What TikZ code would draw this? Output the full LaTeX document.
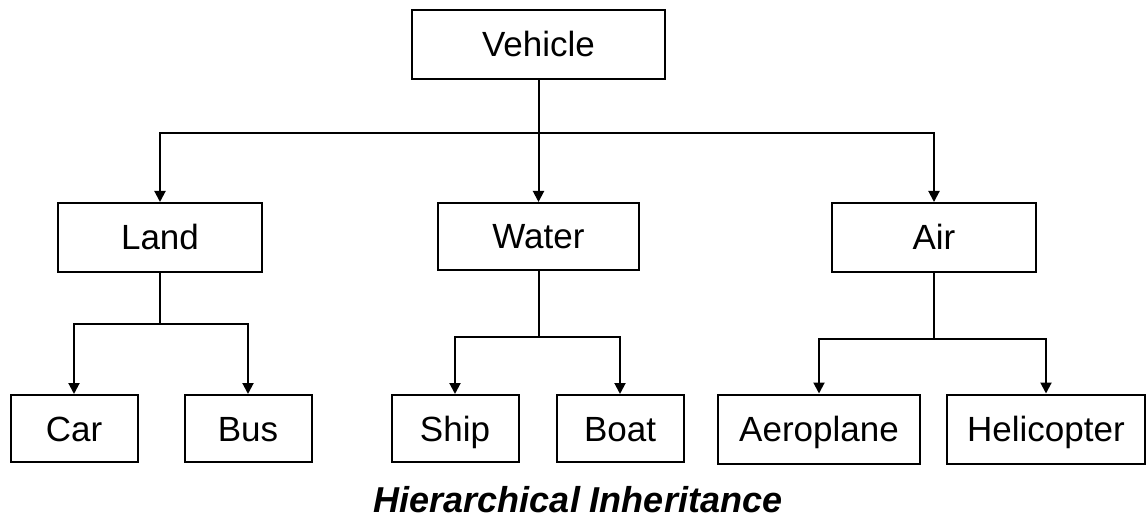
\documentclass[tikz,border=0pt]{standalone}
\usepackage{fontspec}
\setmainfont{Liberation Sans}
\usetikzlibrary{arrows.meta}

\begin{document}
\begin{tikzpicture}[
    x=0.5pt, y=-0.5pt,
    box/.style={draw, line width=1pt, inner sep=0pt, minimum height=34.5pt, text height=12.5pt, text depth=0pt, font=\fontsize{17.5}{21}\selectfont},
    topbox/.style={box, minimum width=126.5pt},
    midbox/.style={box, minimum width=102pt},
    leafbox/.style={box, minimum width=63.5pt, minimum height=33.5pt},
    wideleaf/.style={box, minimum width=101pt},
    link/.style={line width=1pt},
    arr/.style={-{Triangle[length=5.5pt, width=5.5pt]}, line width=1pt}
]
\useasboundingbox (0,0) rectangle (1146,518);

\node[topbox] (vehicle) at (538.5, 44.5) {Vehicle};

\node[midbox] (land) at (160, 237.5) {Land};
\node[midbox, minimum width=100.5pt, minimum height=33.5pt] (water) at (538.5, 236.5) {Water};
\node[midbox] (air) at (934, 237.5) {Air};

\node[leafbox] (car) at (74, 428.5) {Car};
\node[leafbox] (bus) at (248, 428.5) {Bus};
\node[leafbox] (ship) at (455, 428.5) {Ship};
\node[leafbox] (boat) at (620, 428.5) {Boat};
\node[wideleaf] (aeroplane) at (819, 429) {Aeroplane};
\node[wideleaf, minimum width=99pt] (helicopter) at (1046, 429) {Helicopter};

% branch points
\coordinate (v-split) at (538.5, 133);
\coordinate (l-split) at (160, 324);
\coordinate (w-split) at (538.5, 337);
\coordinate (a-split) at (934, 339);

\foreach \a/\b in {vehicle/v-split, land/l-split, water/w-split, air/a-split}
    \draw[link] (\a) -- (\b);
\foreach \a/\b in {v-split/land, v-split/water, v-split/air, l-split/car, l-split/bus, w-split/ship, w-split/boat, a-split/aeroplane, a-split/helicopter}
    \draw[arr] (\a) -| (\b);

\node[anchor=base, font=\fontsize{18}{21}\selectfont\bfseries\itshape] (caption) at (578, 512) {Hierarchical Inheritance};
\end{tikzpicture}
\end{document}
